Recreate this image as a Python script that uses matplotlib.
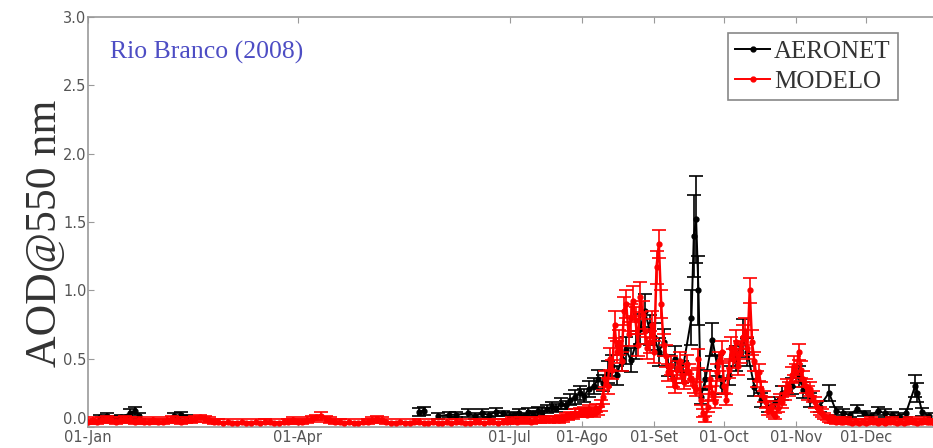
import numpy as np
import matplotlib
matplotlib.use("Agg")
import matplotlib.pyplot as plt
from matplotlib.lines import Line2D

nan = float("nan")

# ---------------- data ----------------
TITLE = "Rio Branco (2008)"
YLABEL = "AOD@550 nm"
TICK_DAYS = [0, 90, 181, 212, 243, 273, 304, 334]
TICK_LABELS = ["01-Jan", "01-Apr", "01-Jul", "01-Ago", "01-Set", "01-Oct", "01-Nov", "01-Dec"]
Y_TICKS = [0.0, 0.5, 1.0, 1.5, 2.0, 2.5, 3.0]

# MODELO: every 2 days Jan-Jul, then daily
MODEL_DAYS = list(range(0, 201, 2)) + list(range(201, 367))
MODEL_AOD = [
    0.04, 0.05, 0.04, 0.05, 0.06, 0.05, 0.04, 0.05, 0.06, 0.05,
    0.04, 0.05, 0.04, 0.04, 0.05, 0.04, 0.04, 0.05, 0.06, 0.05,
    0.04, 0.05, 0.05, 0.06, 0.07, 0.06, 0.05, 0.04, 0.04, 0.03,
    0.04, 0.03, 0.03, 0.04, 0.03, 0.03, 0.04, 0.03, 0.04, 0.04,
    0.03, 0.03, 0.04, 0.04, 0.05, 0.04, 0.04, 0.05, 0.06, 0.07,
    0.08, 0.06, 0.05, 0.04, 0.04, 0.03, 0.04, 0.03, 0.03, 0.04,
    0.04, 0.05, 0.06, 0.05, 0.04, 0.03, 0.03, 0.04, 0.03, 0.03,
    0.04, 0.04, 0.03, 0.03, 0.04, 0.03, 0.03, 0.04, 0.03, 0.04,
    0.04, 0.03, 0.03, 0.04, 0.04, 0.03, 0.04, 0.04, 0.03, 0.04,
    0.04, 0.05, 0.04, 0.05, 0.05, 0.04, 0.05, 0.05, 0.06, 0.05,
    0.06,
    # day 201-366
    0.06, 0.05, 0.07, 0.06, 0.08, 0.07, 0.09, 0.08, 0.10, 0.09,
    0.11, 0.10, 0.12, 0.09, 0.13, 0.11, 0.10, 0.14, 0.12, 0.16,
    0.22, 0.35, 0.30, 0.50, 0.42, 0.75, 0.55, 0.62, 0.48, 0.85,
    0.90, 0.68, 0.80, 0.92, 0.78, 0.60, 0.95, 0.82, 0.70, 0.58,
    0.62, 0.75, 0.55, 1.17, 1.34, 0.90, 0.60, 0.52, 0.40, 0.45,
    0.35, 0.30, 0.42, 0.48, 0.38, 0.33, 0.46, 0.40, 0.36, 0.30,
    0.28, 0.50, 0.20, 0.10, 0.06, 0.15, 0.35, 0.25, 0.18, 0.40,
    0.48, 0.55, 0.30, 0.20, 0.42, 0.58, 0.50, 0.62, 0.45, 0.55,
    0.66, 0.70, 0.58, 1.00, 0.62, 0.48, 0.35, 0.40, 0.28, 0.22,
    0.18, 0.12, 0.15, 0.10, 0.08, 0.14, 0.20, 0.18, 0.25, 0.30,
    0.28, 0.38, 0.45, 0.40, 0.55, 0.42, 0.35, 0.30, 0.25, 0.28,
    0.22, 0.18, 0.15, 0.12, 0.10, 0.08, 0.07, 0.06, 0.05, 0.05,
    0.04, 0.05, 0.04, 0.04, 0.05, 0.04, 0.04, 0.03, 0.04, 0.04,
    0.03, 0.04, 0.04, 0.03, 0.04, 0.05, 0.04, 0.04, 0.03, 0.04,
    0.04, 0.03, 0.04, 0.04, 0.05, 0.04, 0.03, 0.04, 0.04, 0.03,
    0.04, 0.04, 0.05, 0.04, 0.04, 0.03, 0.04, 0.04, 0.05, 0.04,
    0.04, 0.04, 0.03, 0.04, 0.04, 0.04,
]
MODEL_ERR = [
    0.02, 0.02, 0.02, 0.02, 0.02, 0.02, 0.02, 0.02, 0.02, 0.02,
    0.02, 0.02, 0.02, 0.02, 0.02, 0.02, 0.02, 0.02, 0.02, 0.02,
    0.02, 0.02, 0.02, 0.02, 0.02, 0.02, 0.02, 0.02, 0.02, 0.01,
    0.02, 0.01, 0.01, 0.02, 0.01, 0.01, 0.02, 0.01, 0.02, 0.02,
    0.01, 0.01, 0.02, 0.02, 0.02, 0.02, 0.02, 0.02, 0.02, 0.02,
    0.03, 0.02, 0.02, 0.02, 0.02, 0.01, 0.02, 0.01, 0.01, 0.02,
    0.02, 0.02, 0.02, 0.02, 0.02, 0.01, 0.01, 0.02, 0.01, 0.01,
    0.02, 0.02, 0.01, 0.01, 0.02, 0.01, 0.01, 0.02, 0.01, 0.02,
    0.02, 0.01, 0.01, 0.02, 0.02, 0.01, 0.02, 0.02, 0.01, 0.02,
    0.02, 0.02, 0.02, 0.02, 0.02, 0.02, 0.02, 0.02, 0.02, 0.02,
    0.02,
    # day 201-366
    0.02, 0.02, 0.02, 0.02, 0.02, 0.02, 0.02, 0.02, 0.03, 0.02,
    0.03, 0.03, 0.03, 0.02, 0.03, 0.03, 0.03, 0.03, 0.03, 0.04,
    0.05, 0.06, 0.06, 0.08, 0.07, 0.10, 0.08, 0.09, 0.07, 0.10,
    0.10, 0.09, 0.10, 0.11, 0.10, 0.08, 0.11, 0.10, 0.09, 0.08,
    0.08, 0.10, 0.08, 0.12, 0.10, 0.10, 0.08, 0.08, 0.06, 0.07,
    0.06, 0.05, 0.06, 0.07, 0.06, 0.05, 0.07, 0.06, 0.06, 0.05,
    0.05, 0.07, 0.04, 0.03, 0.02, 0.04, 0.06, 0.05, 0.04, 0.06,
    0.07, 0.08, 0.05, 0.04, 0.06, 0.08, 0.07, 0.09, 0.07, 0.08,
    0.09, 0.10, 0.08, 0.09, 0.09, 0.07, 0.06, 0.06, 0.05, 0.04,
    0.04, 0.03, 0.04, 0.03, 0.02, 0.03, 0.04, 0.04, 0.05, 0.05,
    0.05, 0.06, 0.07, 0.06, 0.06, 0.06, 0.06, 0.05, 0.05, 0.05,
    0.04, 0.04, 0.04, 0.03, 0.03, 0.02, 0.02, 0.02, 0.02, 0.02,
    0.02, 0.02, 0.02, 0.02, 0.02, 0.02, 0.02, 0.01, 0.02, 0.02,
    0.01, 0.02, 0.02, 0.01, 0.02, 0.02, 0.02, 0.02, 0.01, 0.02,
    0.02, 0.01, 0.02, 0.02, 0.02, 0.02, 0.01, 0.02, 0.02, 0.01,
    0.02, 0.02, 0.02, 0.02, 0.02, 0.01, 0.02, 0.02, 0.02, 0.02,
    0.02, 0.02, 0.01, 0.02, 0.02, 0.02,
]

# AERONET: irregular days (nan breaks the line across data gaps)
AERONET_DAYS = [
    5, 8, 11, 14, 18, 20, 22, 30, 37, 40, 42, 90,
    142, 144, 148, 150, 155, 158, 163, 166, 169, 172, 175, 178, 181, 183, 185, 187,
    189, 191, 193, 195, 197, 199, 201, 203, 205, 207, 209, 211, 213, 215, 217, 219,
    221, 223, 225, 227, 229, 231, 233, 235, 237, 239, 241, 243, 245, 247, 249, 252,
    255, 259, 260, 261, 262, 263, 265, 268, 270, 272, 275, 278, 281, 283, 286, 289,
    292, 295, 298, 302, 305, 307, 310, 314, 318, 321, 324, 327, 330, 333, 336, 339,
    342, 345, 348, 351, 355, 356, 358, 361,
]
AERONET_AOD = [
    0.07, 0.08, 0.06, 0.07, 0.10, 0.12, 0.08, nan, 0.08, 0.09, 0.07, nan,
    0.11, 0.12, nan, 0.08, 0.09, 0.09, 0.10, 0.08, 0.10, 0.09, 0.11, 0.10, 0.08, 0.09, 0.10, 0.08,
    0.11, 0.10, 0.12, 0.11, 0.13, 0.15, 0.14, 0.17, 0.16, 0.20, 0.22, 0.25, 0.23, 0.28, 0.30, 0.35,
    0.32, 0.40, 0.45, 0.38, 0.50, 0.56, 0.49, 0.60, 0.72, 0.85, 0.71, 0.66, 0.55, 0.62, 0.45, 0.50,
    0.40, 0.80, 1.40, 1.52, 1.00, 0.22, 0.35, 0.64, 0.45, 0.30, 0.38, 0.50, 0.65, 0.55, 0.29, 0.20,
    0.15, 0.18, 0.25, 0.30, 0.37, 0.27, 0.20, 0.15, 0.25, 0.12, 0.10, 0.09, 0.13, 0.10, 0.08, 0.12,
    0.10, 0.09, 0.08, 0.10, 0.30, 0.25, 0.11, 0.08,
]
AERONET_ERR = [
    0.02, 0.02, 0.02, 0.02, 0.03, 0.03, 0.02, nan, 0.02, 0.02, 0.02, nan,
    0.03, 0.03, nan, 0.02, 0.02, 0.02, 0.03, 0.02, 0.03, 0.02, 0.03, 0.02, 0.02, 0.02, 0.03, 0.02,
    0.03, 0.02, 0.03, 0.03, 0.03, 0.03, 0.03, 0.04, 0.03, 0.04, 0.05, 0.05, 0.05, 0.06, 0.06, 0.07,
    0.06, 0.08, 0.08, 0.07, 0.09, 0.10, 0.09, 0.10, 0.11, 0.12, 0.11, 0.10, 0.10, 0.10, 0.08, 0.09,
    0.08, 0.20, 0.30, 0.32, 0.25, 0.05, 0.07, 0.12, 0.08, 0.06, 0.07, 0.09, 0.14, 0.10, 0.06, 0.05,
    0.04, 0.04, 0.05, 0.06, 0.08, 0.06, 0.05, 0.04, 0.06, 0.03, 0.03, 0.02, 0.03, 0.02, 0.02, 0.03,
    0.03, 0.02, 0.02, 0.03, 0.08, 0.07, 0.03, 0.02,
]

# ---------------- plot ----------------
W, H = 933, 448
fig = plt.figure(figsize=(W / 100, H / 100), dpi=100)
ax = fig.add_axes([88 / W, 1 - 427 / H, 1 - 88 / W, (427 - 17) / H])

ax.errorbar(AERONET_DAYS, AERONET_AOD, yerr=AERONET_ERR, fmt="-o", color="black",
            ms=3.5, lw=1.4, elinewidth=1.2, capsize=5, capthick=1.2, zorder=2)
ax.errorbar(MODEL_DAYS, MODEL_AOD, yerr=MODEL_ERR, fmt="-o", color="#ff0000",
            ms=3.5, lw=1.8, elinewidth=1.2, capsize=5, capthick=1.2, zorder=3)

ax.set_xlim(0, (W - 88) / 2.33)
ax.set_ylim(0, 3.0)
ax.set_xticks(TICK_DAYS)
ax.set_xticklabels(TICK_LABELS)
ax.set_yticks(Y_TICKS)
ax.set_yticklabels([f"{v:.1f}" for v in Y_TICKS])
ax.get_yticklabels()[0].set_va("bottom")

frame_col = "#9a9a9a"
for s in ["left", "top", "bottom"]:
    ax.spines[s].set_color(frame_col)
    ax.spines[s].set_linewidth(1.2)
ax.spines["right"].set_visible(False)
ax.tick_params(axis="both", direction="in", length=4, color=frame_col,
               labelsize=10.5, labelcolor="#555555", top=True)
ax.tick_params(axis="x", pad=2)
ax.tick_params(axis="y", pad=1)

fig.text(45 / W, 1 - 233 / H, YLABEL, rotation=90, ha="center", va="center",
         family="Liberation Serif", fontsize=31.5, color="#333333")
fig.text(110 / W, 1 - 52 / H, TITLE, ha="left", va="center",
         family="Liberation Serif", fontsize=18.5, color="#4d4dc4")

handles = [
    Line2D([], [], color="black", marker="o", ms=3.5, lw=1.4),
    Line2D([], [], color="#ff0000", marker="o", ms=3.5, lw=1.4),
]
leg = ax.legend(handles, ["AERONET", "MODELO"], loc="upper right",
                bbox_to_anchor=(898 / W, 1 - 33 / H),
                bbox_transform=fig.transFigure, borderaxespad=0,
                prop={"family": "Liberation Serif", "size": 18},
                fancybox=False, framealpha=1, edgecolor="#888888",
                handlelength=1.4, handletextpad=0.15, labelspacing=0.3,
                borderpad=0.3)
leg.get_frame().set_linewidth(1.2)
for t in leg.get_texts():
    t.set_color("#333333")

fig.savefig("out.png", dpi=100)
